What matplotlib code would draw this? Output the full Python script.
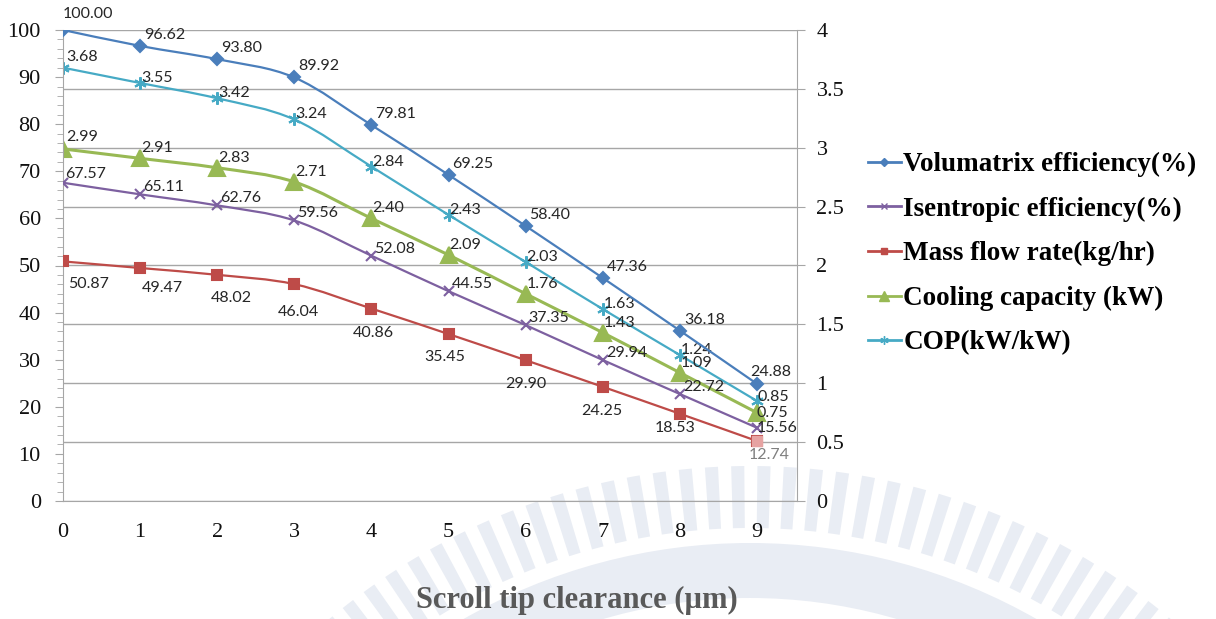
import numpy as np
import matplotlib
matplotlib.use("Agg")
import matplotlib.pyplot as plt
from matplotlib.path import Path
from matplotlib.patches import PathPatch, Wedge
from matplotlib.lines import Line2D

# ---- data -------------------------------------------------------------
clearance = [0, 1, 2, 3, 4, 5, 6, 7, 8, 9]
vol_eff = [100.00, 96.62, 93.80, 89.92, 79.81, 69.25, 58.40, 47.36, 36.18, 24.88]
isen_eff = [67.57, 65.11, 62.76, 59.56, 52.08, 44.55, 37.35, 29.94, 22.72, 15.56]
mass_flow = [50.87, 49.47, 48.02, 46.04, 40.86, 35.45, 29.90, 24.25, 18.53, 12.74]
cooling_cap = [2.99, 2.91, 2.83, 2.71, 2.40, 2.09, 1.76, 1.43, 1.09, 0.75]
cop = [3.68, 3.55, 3.42, 3.24, 2.84, 2.43, 2.03, 1.63, 1.24, 0.85]

series_names = ["Volumatrix efficiency(%)", "Isentropic efficiency(%)",
                "Mass flow rate(kg/hr)", "Cooling capacity (kW)", "COP(kW/kW)"]
x_label = "Scroll tip clearance (\u00b5m)"

# ---- styling ----------------------------------------------------------
C_VOL, C_ISEN, C_MASS, C_COOL, C_COP = "#4a7ebb", "#7d60a0", "#be4b48", "#98b954", "#46aac5"
SERIF = "Liberation Serif"
LABEL_FONT = "Lato"
LABEL_SIZE = 11.5
W, H = 1216, 619

fig = plt.figure(figsize=(W / 100, H / 100), dpi=100)
fig.patch.set_facecolor("white")

# faint watermark emblem in the background
bg = fig.add_axes([0, 0, 1, 1], zorder=-10)
bg.set_xlim(0, W)
bg.set_ylim(0, H)
bg.axis("off")
wm = "#e9edf4"
cx, cy = 750, H - 1121
a = 33.0
while a < 147.0:
    bg.add_patch(Wedge((cx, cy), 655, a, a + 1.15, width=62, color=wm, lw=0))
    a += 2.3
bg.add_patch(Wedge((cx, cy), 578, 30, 150, width=55, color=wm, lw=0))

ax = fig.add_axes([63 / W, (H - 501) / H, (797 - 63) / W, (501 - 30) / H])
ax2 = ax.twinx()
ax.set_zorder(ax2.get_zorder() + 1)
ax.patch.set_visible(False)
ax2.patch.set_visible(False)

ax.set_xlim(0, 9.52)
ax.set_ylim(0, 100)
ax2.set_ylim(0, 4)

GRAY = "#a6a6a6"
ax2.set_yticks(np.arange(0, 4.01, 0.5))
ax2.set_yticklabels(["0", "0.5", "1", "1.5", "2", "2.5", "3", "3.5", "4"])
ax2.grid(axis="y", color=GRAY, lw=1.0)
ax2.set_axisbelow(True)

ax.set_yticks(np.arange(0, 101, 10))
ax.set_yticks(np.arange(0, 101, 2), minor=True)
ax.set_xticks(clearance)

for s in ("top", "right"):
    ax.spines[s].set_visible(False)
for s in ("top", "left", "bottom"):
    ax2.spines[s].set_visible(False)
ax.spines["left"].set_color(GRAY)
ax.spines["bottom"].set_color(GRAY)
ax2.spines["right"].set_color(GRAY)

ax.tick_params(axis="y", which="major", direction="out", length=6, color=GRAY,
               labelsize=16, pad=10)
ax.tick_params(axis="y", which="minor", direction="out", length=4, color=GRAY)
ax.tick_params(axis="x", length=0, labelsize=16, pad=16)
ax2.tick_params(axis="y", direction="out", length=6, color=GRAY, labelsize=16, pad=8)
for lab in ax.get_xticklabels() + ax.get_yticklabels() + ax2.get_yticklabels():
    lab.set_fontfamily(SERIF)
    lab.set_color("#111111")


def smooth_path(xs, ys):
    """Cardinal-spline Bezier path through the points (spreadsheet-style smoothing)."""
    pts = np.column_stack([xs, ys]).astype(float)
    n = len(pts)
    verts = [pts[0]]
    codes = [Path.MOVETO]
    for i in range(n - 1):
        p0 = pts[i - 1] if i > 0 else pts[i]
        p1, p2 = pts[i], pts[i + 1]
        p3 = pts[i + 2] if i + 2 < n else pts[i + 1]
        c1 = p1 + (p2 - p0) / 6.0
        c2 = p2 - (p3 - p1) / 6.0
        verts += [c1, c2, p2]
        codes += [Path.CURVE4] * 3
    return Path(verts, codes)


def draw_series(axis, ys, color, marker, ms, lw, mew=1.5):
    axis.add_patch(PathPatch(smooth_path(clearance, ys), fill=False, edgecolor=color,
                             lw=lw, capstyle="round", joinstyle="round", zorder=3))
    axis.plot(clearance, ys, ls="none", marker=marker, ms=ms, color=color,
              mec=color, mew=mew, zorder=4)


def label_series(axis, ys, offsets, color="#262626", ha="left"):
    for xi, yi, (dx, dy) in zip(clearance, ys, offsets):
        axis.annotate(f"{yi:.2f}", (xi, yi), xytext=(dx, dy), textcoords="offset pixels",
                      ha=ha, va="center", fontsize=LABEL_SIZE, family=LABEL_FONT,
                      color=color, zorder=6)


# secondary-axis series
draw_series(ax2, cop, C_COP, (6, 2, 0), 9, 1.6)
draw_series(ax2, cooling_cap, C_COOL, "^", 12, 2.2)
# primary-axis series
draw_series(ax, vol_eff, C_VOL, "D", 6.5, 1.6)
draw_series(ax, isen_eff, C_ISEN, "x", 6.5, 1.6)
draw_series(ax, mass_flow, C_MASS, "s", 7, 1.6)
ax.plot(clearance[-1:], mass_flow[-1:], ls="none", marker="s", ms=7,
        color="#e6a3a2", zorder=5)

# value labels
label_series(ax, vol_eff, [(0, 16)] + [(4, 11)] * 8 + [(-7, 12)])
label_series(ax, isen_eff, [(2, 9)] + [(3, 7)] * 8 + [(0, 0)])
mass_offsets = [(5, -23), (2, -20), (-6, -23), (-17, -28), (-19, -24),
                (-24, -23), (-20, -24), (-22, -24), (-25, -14)]
label_series(ax, mass_flow[:-1], mass_offsets)
ax.annotate(f"{mass_flow[-1]:.2f}", (clearance[-1], mass_flow[-1]), xytext=(-8, -14),
            textcoords="offset pixels", ha="left", va="center", fontsize=LABEL_SIZE,
            family=LABEL_FONT, color="#7f7f7f", zorder=6)
label_series(ax2, cooling_cap, [(3, 12)] + [(1, 10)] * 8 + [(0, 0)])
label_series(ax2, cop, [(3, 11)] + [(1, 5)] * 8 + [(1, 4)])

# axis title
fig.text(577 / W, (H - 600) / H, x_label, ha="center", va="center", fontsize=22,
         fontweight="bold", family=SERIF, color="#595959")

# legend
handles = [
    Line2D([], [], color=C_VOL, marker="D", ms=4, lw=2),
    Line2D([], [], color=C_ISEN, marker="x", ms=5, lw=2),
    Line2D([], [], color=C_MASS, marker="s", ms=5, lw=2),
    Line2D([], [], color=C_COOL, marker="^", ms=7, lw=2),
    Line2D([], [], color=C_COP, marker=(6, 2, 0), ms=6, lw=2),
]
fig.legend(handles, series_names, loc="upper left",
           bbox_to_anchor=(868 / W, (H - 152) / H), frameon=False,
           prop={"family": SERIF, "weight": "bold", "size": 19.5},
           handlelength=1.2, handletextpad=0.1, labelspacing=0.72, borderaxespad=0,
           borderpad=0)

fig.savefig("out.png", dpi=100, facecolor="white")
